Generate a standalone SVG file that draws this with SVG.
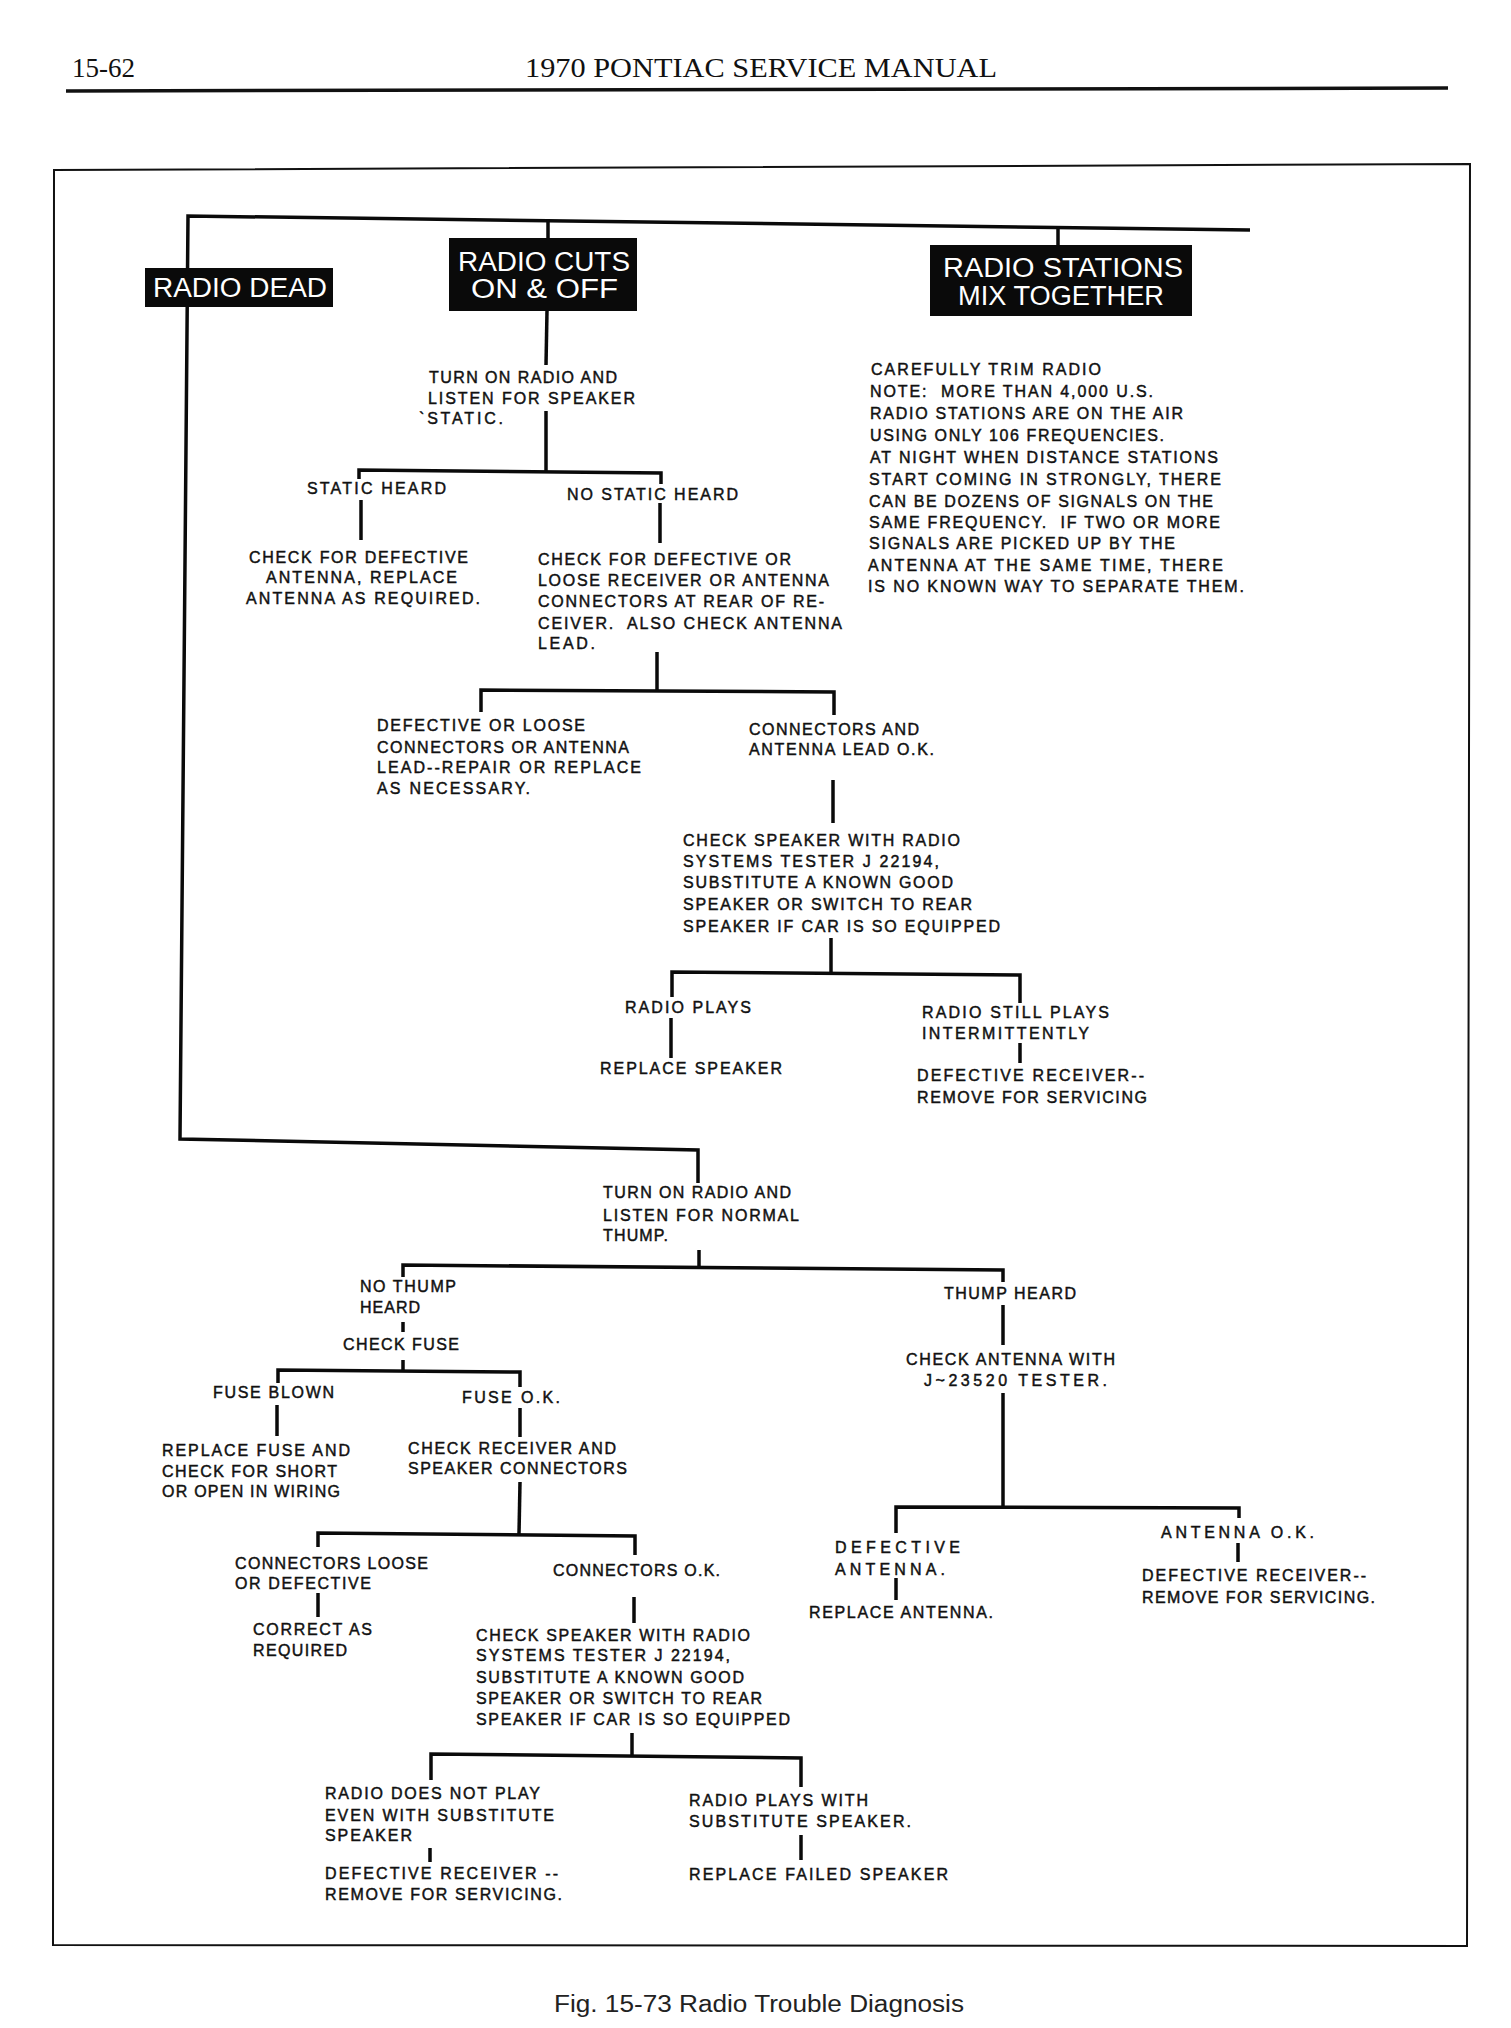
<svg xmlns="http://www.w3.org/2000/svg" width="1511" height="2028" viewBox="0 0 1511 2028">
<style>
  .t { font-family: "Liberation Sans", Arial, sans-serif; font-size: 16px; fill: #111; stroke: #111; stroke-width: 0.45px; }
  .bx { fill: #0a0a0a; }
  .bt { font-family: "Liberation Sans", Arial, sans-serif; font-size: 27px; fill: #ffffff; }
  .hd { font-family: "Liberation Serif", "Times New Roman", serif; font-size: 27px; fill: #111; }
  .cap { font-family: "Liberation Sans", Arial, sans-serif; font-size: 23px; fill: #222; }
  .c { fill: none; stroke: #0a0a0a; stroke-width: 3.5; stroke-linejoin: miter; stroke-linecap: butt; }
  .fr { fill: none; stroke: #111; stroke-width: 2; }
</style>
<rect width="1511" height="2028" fill="#ffffff"/>

<g id="header">
  <text class="hd" x="72" y="77" textLength="63" lengthAdjust="spacingAndGlyphs">15-62</text>
  <text class="hd" x="525" y="77" textLength="472" lengthAdjust="spacingAndGlyphs">1970 PONTIAC SERVICE MANUAL</text>
  <line x1="66" y1="91" x2="1448" y2="88" stroke="#111" stroke-width="3.5"/>
</g>

<polygon id="frame" class="fr" points="54,170 1470,164 1467,1946 53,1945"/>

<g id="connectors">
  <polyline class="c" points="1250,230 188,216 180,1139 698,1150 698,1183"/>
  <line class="c" x1="548" y1="219" x2="548" y2="238"/>
  <line class="c" x1="1058" y1="226" x2="1058" y2="245"/>
  <line class="c" x1="547" y1="311" x2="546" y2="365"/>
  <line class="c" x1="546" y1="411" x2="546" y2="471"/>
  <polyline class="c" points="359,479 359,470 661,473 661,484"/>
  <line class="c" x1="361" y1="500" x2="361" y2="540"/>
  <line class="c" x1="660" y1="503" x2="660" y2="543"/>
  <line class="c" x1="657" y1="652" x2="657" y2="691"/>
  <polyline class="c" points="481,712 481,690 834,692 834,715"/>
  <line class="c" x1="833" y1="780" x2="833" y2="823"/>
  <line class="c" x1="831" y1="938" x2="831" y2="973"/>
  <polyline class="c" points="672,997 672,972 1020,975 1020,1003"/>
  <line class="c" x1="671" y1="1018" x2="671" y2="1058"/>
  <line class="c" x1="1020" y1="1043" x2="1020" y2="1063"/>
  <line class="c" x1="699" y1="1250" x2="699" y2="1266"/>
  <polyline class="c" points="403,1277 403,1265 1003,1270 1003,1282"/>
  <line class="c" x1="403" y1="1322" x2="403" y2="1332"/>
  <line class="c" x1="403" y1="1360" x2="403" y2="1371"/>
  <polyline class="c" points="278,1383 278,1370 520,1372 520,1387"/>
  <line class="c" x1="277" y1="1405" x2="277" y2="1436"/>
  <line class="c" x1="520" y1="1408" x2="520" y2="1437"/>
  <line class="c" x1="520" y1="1482" x2="519" y2="1534"/>
  <polyline class="c" points="318,1547 318,1533 635,1536 635,1555"/>
  <line class="c" x1="318" y1="1593" x2="318" y2="1617"/>
  <line class="c" x1="634" y1="1597" x2="634" y2="1623"/>
  <line class="c" x1="632" y1="1733" x2="632" y2="1756"/>
  <polyline class="c" points="431,1780 431,1754 801,1758 801,1787"/>
  <line class="c" x1="430" y1="1848" x2="430" y2="1862"/>
  <line class="c" x1="801" y1="1835" x2="801" y2="1860"/>
  <line class="c" x1="1003" y1="1305" x2="1003" y2="1345"/>
  <line class="c" x1="1003" y1="1393" x2="1003" y2="1508"/>
  <polyline class="c" points="896,1533 896,1507 1239,1508 1239,1518"/>
  <line class="c" x1="896" y1="1578" x2="896" y2="1600"/>
  <line class="c" x1="1238" y1="1543" x2="1238" y2="1562"/>
</g>

<g id="radio-dead">
  <rect class="bx" x="145" y="268" width="188" height="39"/>
  <text class="bt" x="153" y="297" textLength="174" lengthAdjust="spacingAndGlyphs">RADIO DEAD</text>
</g>
<g id="radio-cuts">
  <rect class="bx" x="449" y="238" width="188" height="73"/>
  <text class="bt" x="458" y="271" textLength="172" lengthAdjust="spacingAndGlyphs">RADIO CUTS</text>
  <text class="bt" x="471" y="298" textLength="147" lengthAdjust="spacingAndGlyphs">ON &amp; OFF</text>
</g>
<g id="radio-stations">
  <rect class="bx" x="930" y="245" width="262" height="71"/>
  <text class="bt" x="943" y="277" textLength="240" lengthAdjust="spacingAndGlyphs">RADIO STATIONS</text>
  <text class="bt" x="958" y="305" textLength="206" lengthAdjust="spacingAndGlyphs">MIX TOGETHER</text>
</g>

<g id="turn-on-static">
  <text class="t" x="429" y="383" textLength="188">TURN ON RADIO AND</text>
  <text class="t" x="428" y="404" textLength="207">LISTEN FOR SPEAKER</text>
  <text class="t" x="419" y="424" textLength="84">`STATIC.</text>
</g>
<g id="static-heard">
  <text class="t" x="307" y="494" textLength="139">STATIC HEARD</text>
</g>
<g id="no-static-heard">
  <text class="t" x="567" y="500" textLength="171">NO STATIC HEARD</text>
</g>
<g id="check-antenna-replace">
  <text class="t" x="249" y="563" textLength="219">CHECK FOR DEFECTIVE</text>
  <text class="t" x="266" y="583" textLength="191">ANTENNA, REPLACE</text>
  <text class="t" x="246" y="604" textLength="234">ANTENNA AS REQUIRED.</text>
</g>
<g id="check-connectors">
  <text class="t" x="538" y="565" textLength="253">CHECK FOR DEFECTIVE OR</text>
  <text class="t" x="538" y="586" textLength="291">LOOSE RECEIVER OR ANTENNA</text>
  <text class="t" x="538" y="607" textLength="286">CONNECTORS AT REAR OF RE-</text>
  <text class="t" x="538" y="629" textLength="304" xml:space="preserve">CEIVER.  ALSO CHECK ANTENNA</text>
  <text class="t" x="538" y="649" textLength="57">LEAD.</text>
</g>
<g id="note">
  <text class="t" x="871" y="375" textLength="230">CAREFULLY TRIM RADIO</text>
  <text class="t" x="870" y="397" textLength="283" xml:space="preserve">NOTE:  MORE THAN 4,000 U.S.</text>
  <text class="t" x="870" y="419" textLength="313">RADIO STATIONS ARE ON THE AIR</text>
  <text class="t" x="870" y="441" textLength="294">USING ONLY 106 FREQUENCIES.</text>
  <text class="t" x="870" y="463" textLength="348">AT NIGHT WHEN DISTANCE STATIONS</text>
  <text class="t" x="869" y="485" textLength="352">START COMING IN STRONGLY, THERE</text>
  <text class="t" x="869" y="507" textLength="344">CAN BE DOZENS OF SIGNALS ON THE</text>
  <text class="t" x="869" y="528" textLength="351" xml:space="preserve">SAME FREQUENCY.  IF TWO OR MORE</text>
  <text class="t" x="869" y="549" textLength="306">SIGNALS ARE PICKED UP BY THE</text>
  <text class="t" x="868" y="571" textLength="355">ANTENNA AT THE SAME TIME, THERE</text>
  <text class="t" x="868" y="592" textLength="376">IS NO KNOWN WAY TO SEPARATE THEM.</text>
</g>
<g id="defective-loose">
  <text class="t" x="377" y="731" textLength="208">DEFECTIVE OR LOOSE</text>
  <text class="t" x="377" y="753" textLength="252">CONNECTORS OR ANTENNA</text>
  <text class="t" x="377" y="773" textLength="264">LEAD--REPAIR OR REPLACE</text>
  <text class="t" x="377" y="794" textLength="153">AS NECESSARY.</text>
</g>
<g id="connectors-ok">
  <text class="t" x="749" y="735" textLength="170">CONNECTORS AND</text>
  <text class="t" x="749" y="755" textLength="185">ANTENNA LEAD O.K.</text>
</g>
<g id="check-speaker-1">
  <text class="t" x="683" y="846" textLength="277">CHECK SPEAKER WITH RADIO</text>
  <text class="t" x="683" y="867" textLength="256">SYSTEMS TESTER J 22194,</text>
  <text class="t" x="683" y="888" textLength="270">SUBSTITUTE A KNOWN GOOD</text>
  <text class="t" x="683" y="910" textLength="289">SPEAKER OR SWITCH TO REAR</text>
  <text class="t" x="683" y="932" textLength="317">SPEAKER IF CAR IS SO EQUIPPED</text>
</g>
<g id="radio-plays">
  <text class="t" x="625" y="1013" textLength="126">RADIO PLAYS</text>
</g>
<g id="replace-speaker">
  <text class="t" x="600" y="1074" textLength="182">REPLACE SPEAKER</text>
</g>
<g id="still-plays">
  <text class="t" x="922" y="1018" textLength="187">RADIO STILL PLAYS</text>
  <text class="t" x="922" y="1039" textLength="167">INTERMITTENTLY</text>
</g>
<g id="defective-receiver-1">
  <text class="t" x="917" y="1081" textLength="227">DEFECTIVE RECEIVER--</text>
  <text class="t" x="917" y="1103" textLength="230">REMOVE FOR SERVICING</text>
</g>

<g id="turn-on-thump">
  <text class="t" x="603" y="1198" textLength="188">TURN ON RADIO AND</text>
  <text class="t" x="603" y="1221" textLength="196">LISTEN FOR NORMAL</text>
  <text class="t" x="603" y="1241" textLength="65">THUMP.</text>
</g>
<g id="no-thump">
  <text class="t" x="360" y="1292" textLength="96">NO THUMP</text>
  <text class="t" x="360" y="1313" textLength="60">HEARD</text>
</g>
<g id="check-fuse">
  <text class="t" x="343" y="1350" textLength="116">CHECK FUSE</text>
</g>
<g id="fuse-blown">
  <text class="t" x="213" y="1398" textLength="121">FUSE BLOWN</text>
</g>
<g id="fuse-ok">
  <text class="t" x="462" y="1403" textLength="98">FUSE O.K.</text>
</g>
<g id="replace-fuse">
  <text class="t" x="162" y="1456" textLength="188">REPLACE FUSE AND</text>
  <text class="t" x="162" y="1477" textLength="175">CHECK FOR SHORT</text>
  <text class="t" x="162" y="1497" textLength="178">OR OPEN IN WIRING</text>
</g>
<g id="check-receiver">
  <text class="t" x="408" y="1454" textLength="208">CHECK RECEIVER AND</text>
  <text class="t" x="408" y="1474" textLength="219">SPEAKER CONNECTORS</text>
</g>
<g id="connectors-loose">
  <text class="t" x="235" y="1569" textLength="193">CONNECTORS LOOSE</text>
  <text class="t" x="235" y="1589" textLength="136">OR DEFECTIVE</text>
</g>
<g id="connectors-ok-2">
  <text class="t" x="553" y="1576" textLength="167">CONNECTORS O.K.</text>
</g>
<g id="correct-as-required">
  <text class="t" x="253" y="1635" textLength="119">CORRECT AS</text>
  <text class="t" x="253" y="1656" textLength="94">REQUIRED</text>
</g>
<g id="check-speaker-2">
  <text class="t" x="476" y="1641" textLength="274">CHECK SPEAKER WITH RADIO</text>
  <text class="t" x="476" y="1661" textLength="254">SYSTEMS TESTER J 22194,</text>
  <text class="t" x="476" y="1683" textLength="268">SUBSTITUTE A KNOWN GOOD</text>
  <text class="t" x="476" y="1704" textLength="286">SPEAKER OR SWITCH TO REAR</text>
  <text class="t" x="476" y="1725" textLength="314">SPEAKER IF CAR IS SO EQUIPPED</text>
</g>
<g id="does-not-play">
  <text class="t" x="325" y="1799" textLength="215">RADIO DOES NOT PLAY</text>
  <text class="t" x="325" y="1821" textLength="229">EVEN WITH SUBSTITUTE</text>
  <text class="t" x="325" y="1841" textLength="87">SPEAKER</text>
</g>
<g id="defective-receiver-2">
  <text class="t" x="325" y="1879" textLength="233">DEFECTIVE RECEIVER --</text>
  <text class="t" x="325" y="1900" textLength="237">REMOVE FOR SERVICING.</text>
</g>
<g id="plays-with-substitute">
  <text class="t" x="689" y="1806" textLength="179">RADIO PLAYS WITH</text>
  <text class="t" x="689" y="1827" textLength="222">SUBSTITUTE SPEAKER.</text>
</g>
<g id="replace-failed">
  <text class="t" x="689" y="1880" textLength="259">REPLACE FAILED SPEAKER</text>
</g>
<g id="thump-heard">
  <text class="t" x="944" y="1299" textLength="132">THUMP HEARD</text>
</g>
<g id="check-antenna">
  <text class="t" x="906" y="1365" textLength="209">CHECK ANTENNA WITH</text>
  <text class="t" x="924" y="1386" textLength="183">J~23520 TESTER.</text>
</g>
<g id="defective-antenna">
  <text class="t" x="835" y="1553" textLength="125">DEFECTIVE</text>
  <text class="t" x="835" y="1575" textLength="110">ANTENNA.</text>
</g>
<g id="replace-antenna">
  <text class="t" x="809" y="1618" textLength="184">REPLACE ANTENNA.</text>
</g>
<g id="antenna-ok">
  <text class="t" x="1161" y="1538" textLength="153">ANTENNA O.K.</text>
</g>
<g id="defective-receiver-3">
  <text class="t" x="1142" y="1581" textLength="224">DEFECTIVE RECEIVER--</text>
  <text class="t" x="1142" y="1603" textLength="233">REMOVE FOR SERVICING.</text>
</g>

<text class="cap" x="554" y="2012" textLength="410" lengthAdjust="spacingAndGlyphs">Fig. 15-73 Radio Trouble Diagnosis</text>
</svg>
